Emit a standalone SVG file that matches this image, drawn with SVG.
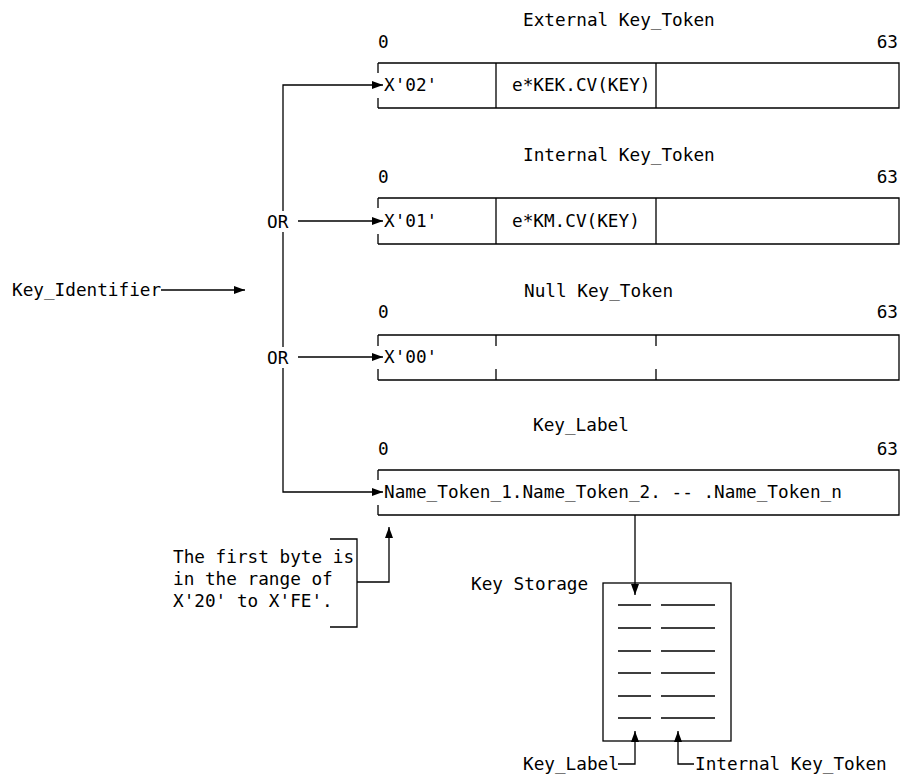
<svg xmlns="http://www.w3.org/2000/svg" width="910" height="777" viewBox="0 0 910 777">
<style>
text { font-family: "DejaVu Sans Mono", "Liberation Mono", monospace; font-size: 17.7px; fill: #000; }
.ln { stroke: #000; stroke-width: 1.3; fill: none; }
.end { text-anchor: end; }
</style>
<defs>
<marker id="ah" markerUnits="userSpaceOnUse" markerWidth="12" markerHeight="10" refX="11" refY="4" orient="auto">
<path d="M0,0 L11,4 L0,8 z" fill="#000"/>
</marker>
</defs>
<rect width="910" height="777" fill="#fff"/>

<g id="external-token">
<text x="523" y="26">External Key_Token</text>
<text x="378" y="48">0</text>
<text x="898" y="48" class="end">63</text>
<path class="ln" d="M378,63 H899 V108 H378 M378,63 v10 M378,108 v-10 M496,63 V108 M656,63 V108"/>
<text x="384" y="91">X'02'</text>
<text x="512" y="91">e*KEK.CV(KEY)</text>
</g>

<g id="internal-token">
<text x="523" y="161">Internal Key_Token</text>
<text x="378" y="183">0</text>
<text x="898" y="183" class="end">63</text>
<path class="ln" d="M378,198 H899 V244 H378 M378,198 v10 M378,244 v-10 M496,198 V244 M656,198 V244"/>
<text x="384" y="227">X'01'</text>
<text x="512" y="227">e*KM.CV(KEY)</text>
</g>

<g id="null-token">
<text x="524" y="297">Null Key_Token</text>
<text x="378" y="318">0</text>
<text x="898" y="318" class="end">63</text>
<path class="ln" d="M378,335 H899 V380 H378 M378,335 v11 M378,380 v-11 M496,335 v11 M496,380 v-11 M656,335 v11 M656,380 v-11"/>
<text x="384" y="363">X'00'</text>
</g>

<g id="key-label">
<text x="533" y="431">Key_Label</text>
<text x="378" y="455">0</text>
<text x="898" y="455" class="end">63</text>
<path class="ln" d="M378,470 H899 V515 H378 M378,470 v10 M378,515 v-10"/>
<text x="384" y="498">Name_Token_1.Name_Token_2. -- .Name_Token_n</text>
</g>

<g id="key-identifier">
<text x="12" y="296">Key_Identifier</text>
</g>

<g id="or-labels">
<text x="267" y="228">OR</text>
<text x="267" y="364">OR</text>
</g>

<g id="note">
<text x="173" y="563">The first byte is</text>
<text x="173" y="585">in the range of</text>
<text x="173" y="607">X'20' to X'FE'.</text>
<path class="ln" d="M330,539 H357 V627 H330"/>
</g>

<g id="key-storage">
<text x="471" y="590">Key Storage</text>
<rect class="ln" x="603" y="583" width="128" height="158"/>
<path class="ln" d="M618,605 H651 M661,605 H715 M618,628 H651 M661,628 H715 M618,651 H651 M661,651 H715 M618,673 H651 M661,673 H715 M618,696 H651 M661,696 H715 M618,718 H651 M661,718 H715"/>
<text x="523" y="770">Key_Label</text>
<text x="695" y="770">Internal Key_Token</text>
</g>

<g id="connectors">
<path class="ln" d="M161,290 H245" marker-end="url(#ah)"/>
<path class="ln" d="M283,211 V85 H383" marker-end="url(#ah)"/>
<path class="ln" d="M283,232 V347"/>
<path class="ln" d="M283,368 V492 H383" marker-end="url(#ah)"/>
<path class="ln" d="M298,221 H383" marker-end="url(#ah)"/>
<path class="ln" d="M298,357 H383" marker-end="url(#ah)"/>
<path class="ln" d="M357,582 H389 V527" marker-end="url(#ah)"/>
<path class="ln" d="M635,515 V595" marker-end="url(#ah)"/>
<path class="ln" d="M618,764 H635 V731" marker-end="url(#ah)"/>
<path class="ln" d="M694,764 H678 V731" marker-end="url(#ah)"/>
</g>
</svg>
